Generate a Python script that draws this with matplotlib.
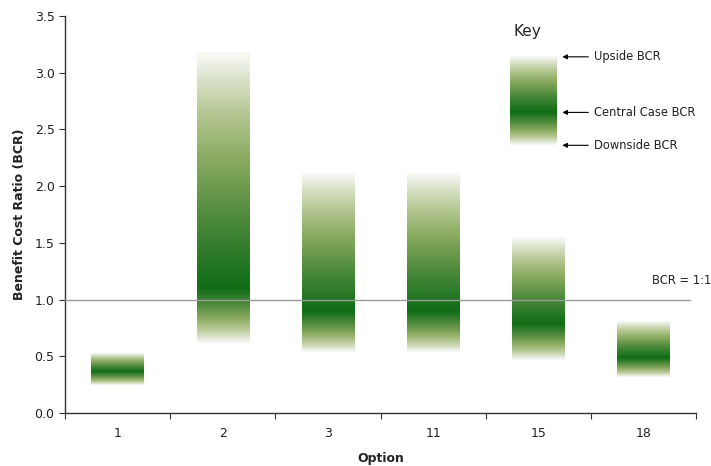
import numpy as np
import matplotlib
matplotlib.use("Agg")
import matplotlib.pyplot as plt

options = ['1', '2', '3', '11', '15', '18']
upside = [0.53, 3.18, 2.11, 2.11, 1.55, 0.81]
central = [0.37, 1.10, 0.90, 0.90, 0.79, 0.49]
downside = [0.25, 0.62, 0.54, 0.54, 0.47, 0.32]

key_labels = ['Upside BCR', 'Central Case BCR', 'Downside BCR']
key_values = [3.14, 2.65, 2.36]

plt.rcParams['font.family'] = ['DejaVu Sans']

# gradient anchors (frac 0 = central, 1 = edge)
anchor_f = [0.0, 0.08, 0.3, 0.55, 0.75, 0.9, 1.0]
anchor_c = np.array([
    [0x10, 0x6c, 0x14],
    [0x1f, 0x74, 0x21],
    [0x4e, 0x8a, 0x3c],
    [0x8a, 0xab, 0x5f],
    [0xb8, 0xc9, 0x96],
    [0xdd, 0xe5, 0xcf],
    [0xf4, 0xf6, 0xef],
]) / 255.0


def gradient_image(lo, mid, hi, n=400):
    ys = np.linspace(lo, hi, n)
    frac = np.where(ys >= mid, (ys - mid) / max(hi - mid, 1e-9), (mid - ys) / max(mid - lo, 1e-9))
    frac = np.clip(frac, 0, 1)
    img = np.zeros((n, 1, 4))
    for ch in range(3):
        img[:, 0, ch] = np.interp(frac, anchor_f, anchor_c[:, ch])
    img[:, 0, 3] = np.interp(frac, [0, 0.9, 1.0], [1.0, 1.0, 0.6])
    return img


fig = plt.figure(figsize=(7.11, 4.66), dpi=100)
ax = fig.add_axes([0.0914, 0.1137, 0.888, 0.852])

x = np.arange(len(options))
w = 0.5
for i in range(len(options)):
    img = gradient_image(downside[i], central[i], upside[i])
    ax.imshow(img, extent=[x[i] - w / 2, x[i] + w / 2, downside[i], upside[i]],
              origin='lower', aspect='auto', interpolation='bilinear', zorder=2)

# key bar
kx, kw = 3.95, 0.44
img = gradient_image(key_values[2], key_values[1], key_values[0])
ax.imshow(img, extent=[kx - kw / 2, kx + kw / 2, key_values[2], key_values[0]],
          origin='lower', aspect='auto', interpolation='bilinear', zorder=2)
ax.text(3.89, 3.36, 'Key', fontsize=11, ha='center', va='center', color='#222')
for lab, v in zip(key_labels, key_values):
    ax.annotate('', xy=(4.20, v), xytext=(4.50, v),
                arrowprops=dict(arrowstyle='-|>', color='black', lw=0.8, mutation_scale=7))
    ax.text(4.53, v, lab, fontsize=8.3, ha='left', va='center', color='#222')

# BCR = 1:1 line
ax.axhline(1.0, xmin=0, xmax=0.99, color='#999999', lw=1.0, zorder=3)
ax.text(5.64, 1.17, 'BCR = 1:1', fontsize=8.3, ha='right', va='center', color='#222', clip_on=False)

ax.set_xlim(-0.5, 5.5)
ax.set_ylim(0, 3.5)
ax.set_xticks(np.arange(-0.5, 6.0, 1.0))
ax.set_xticklabels([])
ax.set_xticks(x, minor=True)
ax.set_xticklabels(options, minor=True)
ax.tick_params(axis='x', which='minor', length=0, pad=10, labelsize=9, labelcolor='#222')
ax.tick_params(axis='x', which='major', length=4, direction='out', color='#333')
ax.set_yticks(np.arange(0, 3.51, 0.5))
ax.set_yticklabels([f'{v:.1f}' for v in np.arange(0, 3.51, 0.5)])
ax.tick_params(axis='y', length=4, direction='out', labelsize=9, labelcolor='#222', color='#333')

for s in ['top', 'right']:
    ax.spines[s].set_visible(False)
for s in ['left', 'bottom']:
    ax.spines[s].set_color('#333')
    ax.spines[s].set_linewidth(1.0)

ax.set_xlabel('Option', fontsize=9, fontweight='bold', color='#222', labelpad=9)
ax.set_ylabel('Benefit Cost Ratio (BCR)', fontsize=9, fontweight='bold', color='#222', labelpad=6)

fig.savefig('out.png', dpi=100)
